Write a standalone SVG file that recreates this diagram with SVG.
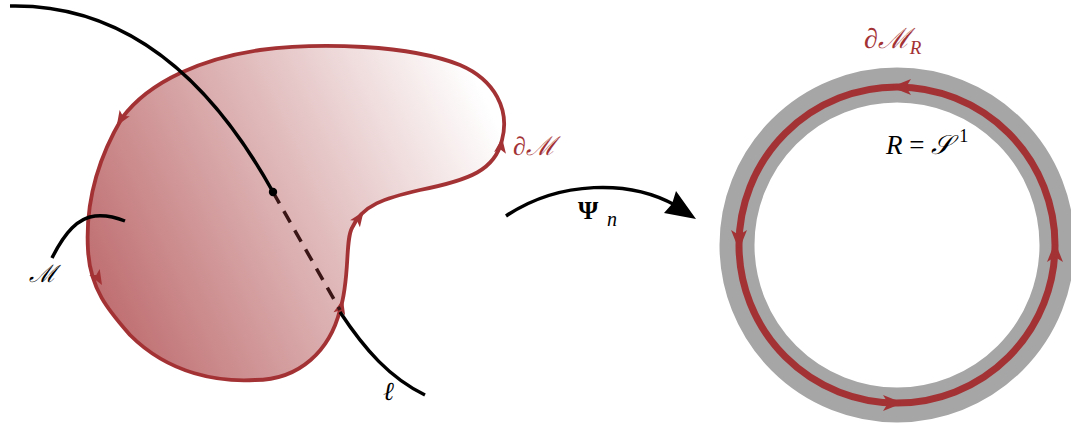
<svg xmlns="http://www.w3.org/2000/svg" width="1071" height="428" viewBox="0 0 1071 428">
<style>
.red{stroke:#a33235;fill:none}
.ah{fill:#a33235}
.blk{stroke:#000;fill:none;stroke-width:3.5;stroke-linecap:butt}
.t{font-family:"Liberation Serif","DejaVu Serif",serif;font-style:italic}
</style>
<defs>
<linearGradient id="g" x1="90" y1="310" x2="495" y2="120" gradientUnits="userSpaceOnUse">
<stop offset="0" stop-color="#bd6a6c"/>
<stop offset="1" stop-color="#ffffff"/>
</linearGradient>
<path id="a" d="M8,0 L-7,-6 L-3.5,0 L-7,6 Z"/>
<path id="A" d="M10,0 L-10,-8 L-5,0 L-10,8 Z"/>
</defs>
<g id="region">
<path d="M255,380 C300,380 330,350 340,310 C350,280 345,240 352,228 C362,205 385,198 420,190 C470,180 495,170 502,140 C510,110 495,80 460,65 C410,45 320,42 260,50 C205,58 150,80 122,118 C100,155 85,200 88,250 C90,290 110,312 130,335 C170,375 220,382 255,380 Z" class="red" style="fill:url(#g)" stroke-width="3.8"/>
<use href="#a" class="ah" transform="translate(121,119) rotate(122)"/>
<use href="#a" class="ah" transform="translate(98,278) rotate(60)"/>
<use href="#a" class="ah" transform="translate(341,307) rotate(-76)"/>
<use href="#a" class="ah" transform="translate(359,218) rotate(-55)"/>
<use href="#a" class="ah" transform="translate(501,146) rotate(-82)"/>
</g>
<g id="line-top">
<path class="blk" d="M10,6 C110,4 200,60 273,192"/>
</g>
<g id="line-ell">
<path d="M273,192 L340,310" stroke="#3a1616" stroke-width="3.5" stroke-dasharray="13,9" fill="none"/>
<circle cx="273" cy="192" r="4.2" fill="#000"/>
<path class="blk" d="M340,312 C365,350 390,378 425,395"/>
<text class="t" x="383" y="400" font-size="26">ℓ</text>
</g>
<g id="M-curve">
<path class="blk" d="M52,258 C65,232 78,218 95,216 C105,215 115,217 125,221"/>
<text class="t" x="29" y="282" font-size="24">ℳ</text>
</g>
<g id="label-dM">
<text class="t" x="513" y="155" font-size="26" fill="#a33235">∂ℳ</text>
</g>
<g id="connectors">
<path class="blk" d="M506,216 C560,180 630,180 675,205"/>
<path d="M696,219 L664,213 L672,204 L676,191 Z" fill="#000"/>
<text x="578" y="219" font-family="Liberation Serif,DejaVu Serif,serif" font-weight="bold" font-size="26">Ψ</text>
<text class="t" x="607" y="226" font-size="20">n</text>
</g>
<g id="circle">
<circle cx="897" cy="245" r="160" fill="none" stroke="#a6a6a6" stroke-width="35"/>
<circle cx="897" cy="245" r="158" fill="none" stroke="#a33235" stroke-width="7"/>
<use href="#A" class="ah" transform="translate(901,87) rotate(180)"/>
<use href="#A" class="ah" transform="translate(739,240) rotate(90)"/>
<use href="#A" class="ah" transform="translate(893,403) rotate(0)"/>
<use href="#A" class="ah" transform="translate(1055,252) rotate(-90)"/>
<text class="t" x="864" y="48" font-size="28" fill="#a33235">∂ℳ<tspan font-size="19" dy="6">R</tspan></text>
<text class="t" x="886" y="154" font-size="27">R <tspan font-style="normal">=</tspan> 𝒮<tspan font-size="18" dx="7" dy="-12" font-style="normal">1</tspan></text>
</g>
</svg>
